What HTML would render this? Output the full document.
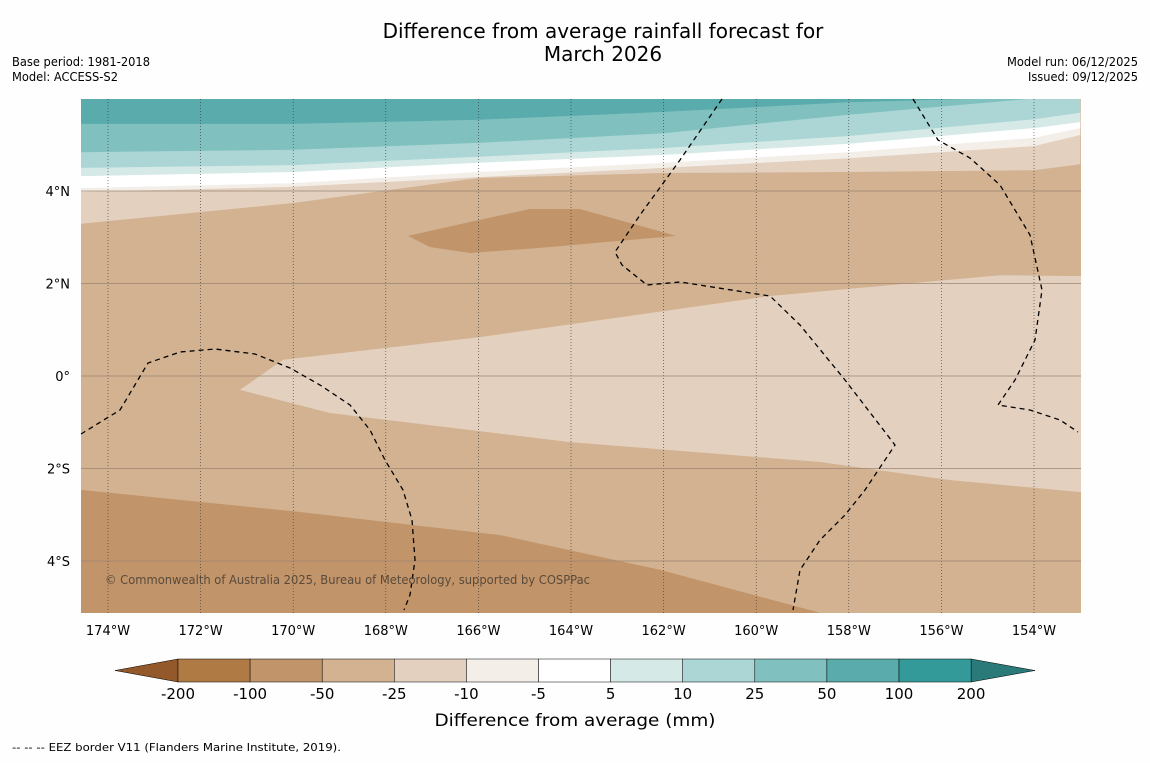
<!DOCTYPE html>
<html><head><meta charset="utf-8"><style>
body{margin:0;background:#fefefe;font-family:"Liberation Sans","DejaVu Sans",sans-serif}
svg text{font-family:"DejaVu Sans","Liberation Sans",sans-serif}
</style></head><body>
<svg id="c" width="1150" height="758" xmlns="http://www.w3.org/2000/svg">
<text x="603" y="38" text-anchor="middle" font-size="20">Difference from average rainfall forecast for</text>
<text x="603" y="61" text-anchor="middle" font-size="20">March 2026</text>
<text x="12" y="66" font-size="12" textLength="138" lengthAdjust="spacingAndGlyphs">Base period: 1981-2018</text>
<text x="12" y="81" font-size="12" textLength="106" lengthAdjust="spacingAndGlyphs">Model: ACCESS-S2</text>
<text x="1007" y="66" font-size="12" textLength="131" lengthAdjust="spacingAndGlyphs">Model run: 06/12/2025</text>
<text x="1028" y="81" font-size="12" textLength="110" lengthAdjust="spacingAndGlyphs">Issued: 09/12/2025</text>
<defs><clipPath id="mc"><rect x="81" y="99" width="1000" height="514"/></clipPath></defs>
<g id="map" clip-path="url(#mc)"></g>
<g id="grid"></g>
<g id="eez"></g>
<g id="axes"></g>
<text x="105" y="584" font-size="12" fill="#5a4a3a" textLength="485" lengthAdjust="spacingAndGlyphs">© Commonwealth of Australia 2025, Bureau of Meteorology, supported by COSPPac</text>
<g id="cbar"></g>
<text x="575" y="726" font-size="17" text-anchor="middle" textLength="281" lengthAdjust="spacingAndGlyphs">Difference from average (mm)</text>
<text x="12" y="751" font-size="11" textLength="329" lengthAdjust="spacingAndGlyphs">--  --  -- EEZ border V11 (Flanders Marine Institute, 2019).</text>
</svg>
<script>
const levels=["-200","-100","-50","-25","-10","-5","5","10","25","50","100","200"];
const colors=["#b07a44","#c1946a","#d2b291","#e3d0bf","#f4eee9","#ffffff","#d5e9e7","#acd6d5","#80c0bf","#5aabab","#339999"];
const extLow="#93592a", extHigh="#2a7a7a";
const lonTicks=[-174,-172,-170,-168,-166,-164,-162,-160,-158,-156,-154];
const latTicks=[4,2,0,-2,-4];
const bandLons=[-174.6,-170,-166,-162,-158,-154,-153];
const bandBrown1=[3.29,3.74,4.28,4.39,4.41,4.45,4.58];
const bandPale=[3.98,4.09,4.30,4.50,4.71,4.97,5.21];
const bandWhite=[4.06,4.17,4.41,4.61,4.84,5.15,5.36];
const bandTeal1=[4.32,4.41,4.61,4.78,5.02,5.36,5.49];
const bandTeal2=[4.50,4.56,4.74,4.93,5.19,5.55,5.69];
const bandTeal3=[4.84,4.89,5.04,5.25,5.65,6.0,6.05];
const bandTeal4=[5.45,5.45,5.54,5.71,5.92,6.03,6.03];
const blobLon=[-167.52,-167.05,-166.18,-164.67,-161.73,-163.81,-164.89,-166.18];
const blobLat=[3.03,2.79,2.66,2.77,3.03,3.61,3.61,3.33];
const lightLon=[-171.15,-170.22,-165.97,-159.70,-154.73,-152.98,-152.98,-155.81,-158.62,-164.02,-169.21];
const lightLat=[-0.30,0.35,0.84,1.73,2.18,2.16,-2.51,-2.25,-1.86,-1.43,-0.80];
const darkLon=[-174.6,-169.85,-165.53,-162.08,-158.62];
const darkLat=[-2.46,-2.94,-3.44,-4.19,-5.12];
const X=lon=>108+(lon+174)*46.3;
const Y=lat=>376-lat*46.25;
const NS="http://www.w3.org/2000/svg";
function mk(tag,attrs,parent){const e=document.createElementNS(NS,tag);for(const k in attrs)e.setAttribute(k,attrs[k]);parent.appendChild(e);return e;}
const map=document.getElementById('map');
const base=mk('rect',{x:81,y:99,width:1000,height:514,fill:colors[2]},map);


function poly(lons,lats,fill,name){const p=lons.map((l,i)=>X(l).toFixed(1)+','+Y(lats[i]).toFixed(1)).join(' ');const e=mk('polygon',{points:p,fill:fill},map);

return e;}
function topBand(vals,fill,name){const lons=[...bandLons,bandLons[bandLons.length-1],bandLons[0]];const lats=[...vals,7,7];poly(lons,lats,fill,name);}
poly(lightLon,lightLat,colors[3],'light-band-center');
poly([...darkLon,-174.6],[...darkLat,-5.3],colors[1],'dark-band-south');
poly(blobLon,blobLat,colors[1],'dark-band-north');
topBand(bandBrown1,colors[3],'band-minus25');
topBand(bandPale,colors[4],'band-minus10');
topBand(bandWhite,colors[5],'band-zero');
topBand(bandTeal1,colors[6],'band-plus5');
topBand(bandTeal2,colors[7],'band-plus10');
topBand(bandTeal3,colors[8],'band-plus25');
topBand(bandTeal4,colors[9],'band-plus50');
const grid=document.getElementById('grid'),axes=document.getElementById('axes');
lonTicks.forEach(l=>{const x=X(l);const g=mk('line',{x1:x,x2:x,y1:99,y2:613,stroke:'#333','stroke-width':0.6,'stroke-dasharray':'1,2'},grid);


const t=mk('text',{x:x,y:635,'font-size':13,'text-anchor':'middle'},axes);t.textContent=Math.abs(l)+'°W';

});
latTicks.forEach(l=>{const y=Y(l);const g=mk('line',{x1:81,x2:1081,y1:y,y2:y,stroke:'#9c8470','stroke-width':0.8},grid);


const t=mk('text',{x:70,y:y+5,'font-size':13,'text-anchor':'end'},axes);t.textContent=l===0?'0°':Math.abs(l)+'°'+(l>0?'N':'S');

});
const eez=document.getElementById('eez');
const eezLines=["M81,434 L120,410 L148,363 L180,352 L215,349 L255,354 L290,368 L320,385 L350,405 L370,430 L385,460 L403,490 L412,520 L415,560 L410,595 L404,610",
"M722,99 L680,160 L640,215 L615,252 L622,265 L647,285 L680,282 L770,296 L800,325 L845,380 L895,445 L865,490 L845,515 L820,540 L800,570 L793,610",
"M913,99 L938,140 L970,158 L1000,185 L1030,235 L1042,290 L1035,340 L1015,380 L998,405 L1030,410 L1060,420 L1078,432"];
eezLines.forEach(d=>{const e=mk('path',{d:d,fill:'none',stroke:'#000','stroke-width':1.3,'stroke-dasharray':'5,4'},eez);

});
const cb=document.getElementById('cbar');const x0=178,w=72.1,y0=659,h=23;
const tl=mk('polygon',{points:`115,${y0+h/2} ${x0},${y0} ${x0},${y0+h}`,fill:extLow,stroke:'#000','stroke-width':0.5},cb);


const xe=x0+w*colors.length;
const tr=mk('polygon',{points:`${xe},${y0} 1035,${y0+h/2} ${xe},${y0+h}`,fill:extHigh,stroke:'#000','stroke-width':0.5},cb);


colors.forEach((c,i)=>{const r=mk('rect',{x:x0+i*w,y:y0,width:w,height:h,fill:c,stroke:'#000','stroke-width':0.5},cb);

});
levels.forEach((l,i)=>{const t=mk('text',{x:x0+i*w,y:699,'font-size':15,'text-anchor':'middle'},cb);t.textContent=l;

});
</script>
</body></html>
